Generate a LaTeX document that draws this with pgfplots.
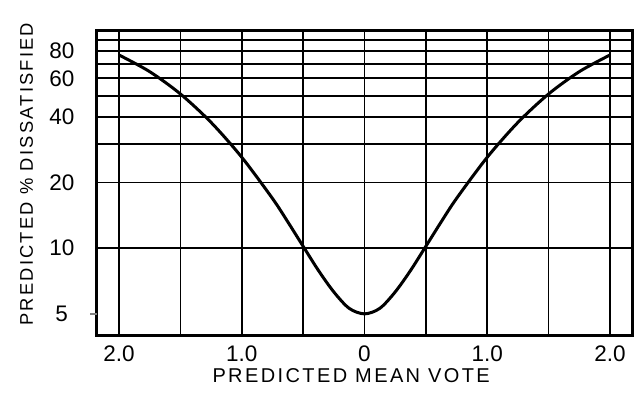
\documentclass[border=0pt]{standalone}
\usepackage{fontspec}
\setmainfont{Liberation Sans}
\newfontfamily\lettered[LetterSpace=12]{Liberation Sans}
\usepackage{pgfplots}
\pgfplotsset{compat=1.18}
\begin{document}
\begin{tikzpicture}
\begin{axis}[
  scale only axis,
  width=321pt, height=183pt,
  xmin=-2.18, xmax=2.18,
  ymode=log, ymin=4, ymax=100,
  axis line style={line width=1.8pt},
  xtick={-2,-1,0,1,2},
  xticklabels={2.0,1.0,0,1.0,2.0},
  minor xtick={-1.5,-0.5,0.5,1.5},
  ytick={10,20,40,60,80},
  yticklabels={10,20,40,60,80},
  minor ytick={30,50,70,90},
  ytick pos=left,
  xtick pos=bottom,
  extra y ticks={5},
  extra y tick labels={5},
  extra y tick style={grid=none, major tick length=4pt, tick align=outside, tick style={line width=1.2pt}},
  major tick length=0pt, minor tick length=0pt,
  grid=both,
  major grid style={line width=1.1pt, black},
  minor grid style={line width=1.1pt, black},
  log ticks with fixed point,
  tick label style={font=\fontsize{13.5}{15}\selectfont},
  /pgf/number format/assume math mode=true,
  xticklabel style={yshift=-3pt},
  yticklabel style={xshift=-10pt},
  xlabel={\lettered\fontsize{12}{14}\selectfont PREDICTED MEAN VOTE},
  ylabel={\lettered\fontsize{11}{13}\selectfont PREDICTED \% DISSATISFIED},
  xlabel style={yshift=3pt, xshift=-8pt},
  ylabel style={yshift=-1pt, xshift=5pt},
  clip=false,
]
\addplot[line width=1.8pt, black, smooth] coordinates {
(-2.0,76.8) (-1.75,64.4) (-1.5,50.9) (-1.25,37.7) (-1.0,26.1) (-0.75,16.9)
(-0.625,13.2) (-0.5,10.2) (-0.375,7.9) (-0.25,6.3) (-0.125,5.3) (0,5.0)
(0.125,5.3) (0.25,6.3) (0.375,7.9) (0.5,10.2) (0.625,13.2) (0.75,16.9)
(1.0,26.1) (1.25,37.7) (1.5,50.9) (1.75,64.4) (2.0,76.8)
};
\end{axis}
\path ([shift={(-58.2pt,-36pt)}]current axis.south west) rectangle ([shift={(1.2pt,18pt)}]current axis.north east);
\end{tikzpicture}
\end{document}
